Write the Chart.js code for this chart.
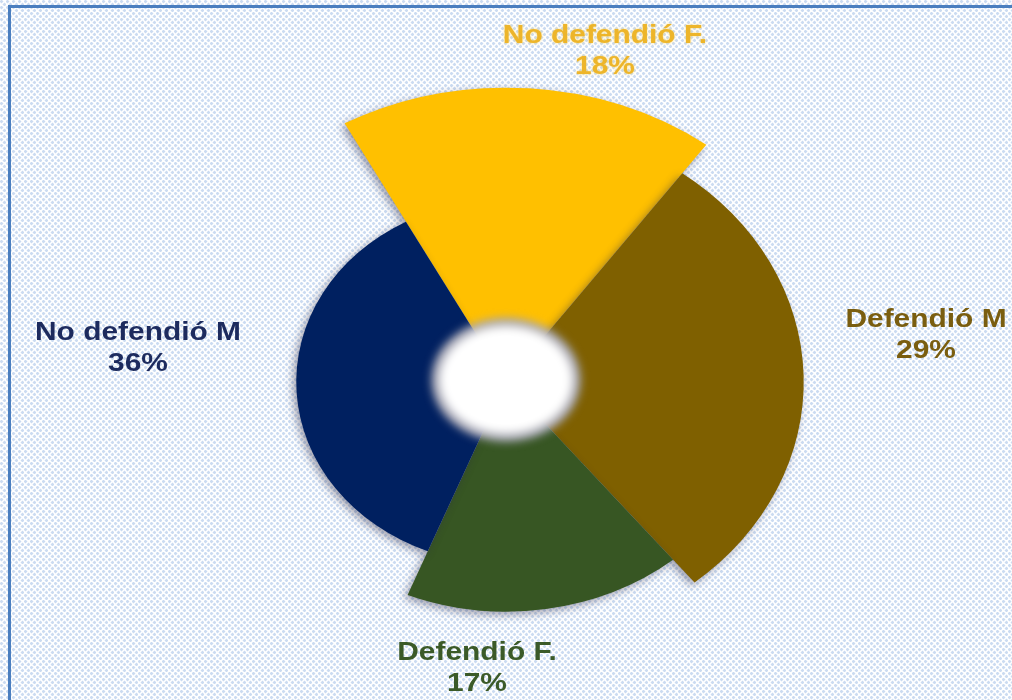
<!DOCTYPE html>
<html lang="es">
<head>
<meta charset="utf-8">
<title>Defendió / No defendió</title>
<script src="https://cdn.jsdelivr.net/npm/chart.js@4.4.1/dist/chart.umd.min.js"></script>
<style>
  html, body { margin: 0; padding: 0; background: #e6eef9; overflow: hidden; }
  canvas { display: block; }
</style>
</head>
<body>
<canvas id="grafica" width="1012" height="700"></canvas>
<script>
// Datos
const categorias = ['No defendió F.', 'Defendió M', 'Defendió F.', 'No defendió M'];
const porcentajes = [18, 29, 17, 36];
// largo relativo de cada sector (el amarillo es el más largo)
const radios = [100, 88, 78, 62];
const colores = ['#FFC000', '#7F6000', '#375623', '#002060'];
const coloresTexto = ['#EDB52A', '#7A5E10', '#3B5A28', '#1D2B5E'];

// la imagen original está estirada a lo ancho
const APLASTADO = 0.87;

function crearFondo(ctx) {
  const tile = document.createElement('canvas');
  tile.width = 6;
  tile.height = 6;
  const t = tile.getContext('2d');
  t.fillStyle = '#ffffff';
  t.fillRect(0, 0, 6, 6);
  t.fillStyle = '#cbdbf1';
  [[1.5, 1.5], [4.5, 4.5]].forEach(([x, y]) => {
    t.beginPath();
    t.moveTo(x, y - 2);
    t.lineTo(x + 2, y);
    t.lineTo(x, y + 2);
    t.lineTo(x - 2, y);
    t.closePath();
    t.fill();
  });
  return ctx.createPattern(tile, 'repeat');
}

// Fondo con trama y borde azul
const fondo = {
  id: 'fondo',
  beforeDraw(chart) {
    const { ctx, width, height } = chart;
    ctx.save();
    ctx.fillStyle = crearFondo(ctx);
    ctx.fillRect(0, 0, width, height);
    ctx.strokeStyle = '#4A7EBF';
    ctx.lineWidth = 3;
    ctx.strokeRect(9.5, 6.5, width + 20, height + 20);
    ctx.restore();
  },
};

// Aplasta los sectores en vertical y les pone sombra; luego dibuja el hueco
const aplastar = {
  id: 'aplastar',
  beforeDatasetsDraw(chart) {
    const { ctx } = chart;
    const r = chart.scales.r;
    ctx.save();
    ctx.translate(r.xCenter, r.yCenter);
    ctx.scale(1, APLASTADO);
    ctx.translate(-r.xCenter, -r.yCenter);
    ctx.shadowColor = 'rgba(40, 40, 70, 0.45)';
    ctx.shadowBlur = 8;
    ctx.shadowOffsetX = -3;
    ctx.shadowOffsetY = 3;
  },
  afterDatasetsDraw(chart) {
    const { ctx } = chart;
    ctx.restore();
    const r = chart.scales.r;
    const cx = r.xCenter;
    const cy = r.yCenter - 2;
    ctx.save();
    ctx.filter = 'blur(4px)';
    ctx.fillStyle = 'rgba(165, 165, 178, 0.95)';
    ctx.beginPath();
    ctx.ellipse(cx, cy, 75, 62, 0, 0, Math.PI * 2);
    ctx.fill();
    ctx.filter = 'blur(5px)';
    ctx.fillStyle = '#ffffff';
    ctx.beginPath();
    ctx.ellipse(cx, cy, 67, 54, 0, 0, Math.PI * 2);
    ctx.fill();
    ctx.filter = 'none';
    ctx.beginPath();
    ctx.ellipse(cx, cy, 56, 44, 0, 0, Math.PI * 2);
    ctx.fill();
    ctx.restore();
  },
};

// Etiquetas: nombre y porcentaje de cada sector
const etiquetas = {
  id: 'etiquetas',
  afterDraw(chart, args, opts) {
    const { ctx } = chart;
    ctx.save();
    ctx.font = 'bold 26px "Liberation Sans", Arial, sans-serif';
    ctx.textAlign = 'center';
    opts.posiciones.forEach(([x, y], i) => {
      ctx.fillStyle = coloresTexto[i];
      ctx.shadowColor = i === 0 ? 'rgba(255, 200, 40, 0.6)' : 'rgba(0, 0, 0, 0)';
      ctx.shadowBlur = i === 0 ? 3 : 0;
      [categorias[i], porcentajes[i] + '%'].forEach((txt, j) => {
        ctx.save();
        ctx.translate(x, y + j * 31);
        ctx.scale(opts.estirar, 1);
        ctx.fillText(txt, 0, 0);
        ctx.restore();
      });
    });
    ctx.restore();
  },
};

new Chart(document.getElementById('grafica'), {
  type: 'polarArea',
  data: {
    labels: categorias,
    datasets: [{
      data: radios,
      angle: (c) => porcentajes[c.dataIndex] * 3.6,
      backgroundColor: colores,
      borderWidth: 0,
      clip: false,
    }],
  },
  options: {
    responsive: false,
    animation: false,
    layout: { padding: { top: 64, bottom: 0, left: 0, right: 0 } },
    plugins: {
      legend: { display: false },
      tooltip: { enabled: false },
      etiquetas: {
        estirar: 1.15,
        posiciones: [[605, 43], [926, 327], [477, 660], [138, 340]],
      },
    },
    scales: {
      r: {
        display: false,
        min: 0,
        max: 94,
        startAngle: -28.5,
        ticks: { display: false },
      },
    },
  },
  plugins: [fondo, aplastar, etiquetas],
});
</script>
</body>
</html>
